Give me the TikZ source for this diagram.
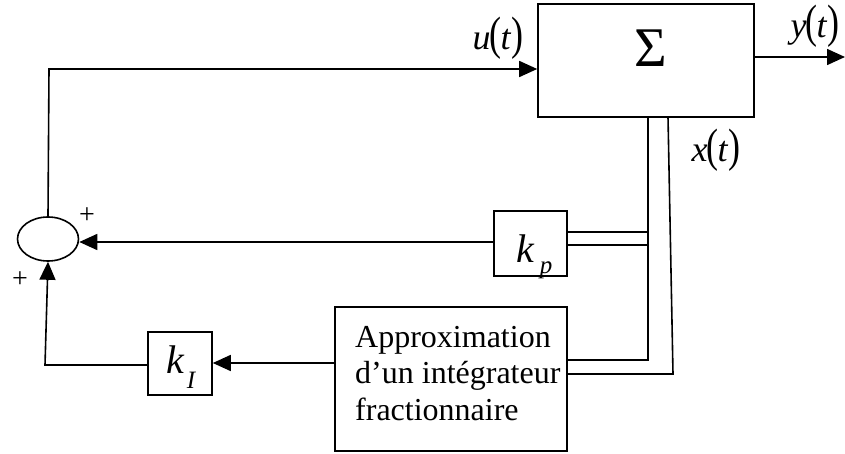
\documentclass[tikz,border=0pt]{standalone}
\usepackage{fontspec}
\setmainfont{Liberation Serif}
\usetikzlibrary{arrows.meta,shapes.geometric}
\tikzset{
  wire/.style={line width=1.6pt},
  arr/.style={wire,-{Triangle[length=18pt,width=16pt]}},
  blk/.style={draw,line width=1.6pt,inner sep=0pt},
  sig/.style={font=\fontsize{36}{38}\selectfont\itshape,inner sep=0pt},
  pl/.style={font=\fontsize{28}{30}\selectfont,inner sep=0pt},
  txt/.style={anchor=base west,inner sep=0pt,font=\fontsize{32}{36}\selectfont},
}
\newcommand{\sgn}[1]{#1\kern-1pt\scalebox{1}[1.3]{\upshape(}\kern-1pt t\kern1pt\scalebox{1}[1.3]{\upshape)}}
\begin{document}
\begin{tikzpicture}[x=1pt,y=-1pt]
\useasboundingbox (0,0) rectangle (845,454);
% blocks
\node[blk,minimum width=216pt,minimum height=113pt] (S) at (646,60.5) {};
\node[anchor=base,inner sep=0pt] (Ssym) at (651,67) {\fontsize{56}{58}\selectfont Σ};
\node[blk,minimum width=73pt,minimum height=65pt] (KP) at (530.5,243.5) {};
\node[anchor=base west,inner sep=0pt] (KPt) at (516,262) {\fontsize{40}{40}\selectfont\itshape k\hspace{6pt}\raisebox{-11pt}{\fontsize{25}{25}\selectfont p}};
\node[blk,minimum width=64pt,minimum height=63pt] (KI) at (180,363.5) {};
\node[anchor=base west,inner sep=0pt] (KIt) at (166,373) {\fontsize{40}{40}\selectfont\itshape k\hspace{3pt}\raisebox{-15pt}{\fontsize{25}{25}\selectfont I}};
\node[blk,minimum width=232pt,minimum height=144pt] (AP) at (451,379) {};
\node[txt] (AP1) at (355,347) {Approximation};
\node[txt] (AP2) at (355,383) {d’un intégrateur};
\node[txt] (AP3) at (355,420) {fractionnaire};
\node[draw,ellipse,line width=1.6pt,minimum width=61pt,minimum height=44pt,inner sep=0pt] (E) at (48,239) {};
% labels
\node[sig] (ut) at (498,38) {\sgn{u}};
\node[sig] (yt) at (815,26) {\sgn{y}};
\node[sig] (xt) at (716,150) {\sgn{x}};
\node[pl] (p1) at (87,216) {+};
\node[pl] (p2) at (20,280) {+};
% coordinates
\coordinate (Out) at (845,57);
\coordinate (Etop) at (49,69);
\coordinate (L1t) at (648,117);
\coordinate (L1b) at (648,360);
\coordinate (L2t) at (668,117);
\coordinate (L2b) at (673,374);
\coordinate (C1) at (45,365);
% connectors
\draw[arr] (S.east |- Out) -- (Out);
\draw[arr] (E.north) -- (Etop) -- (S.west |- Etop);
\draw[wire] (L1t) -- (L1b) -- (AP.east |- L1b);
\draw[wire] (L2t) -- (L2b) -- (AP.east |- L2b);
\draw[wire] (KP.east |- 0,232) -- (648,232);
\draw[wire] (KP.east |- 0,245) -- (648,245);
\draw[arr] (KP.west |- 0,242) -- (E.east |- 0,242);
\draw[arr] (AP.west |- 0,363) -- (KI.east |- 0,363);
\draw[arr] (KI.west |- C1) -- (C1) -- (E.south);
\end{tikzpicture}
\end{document}
